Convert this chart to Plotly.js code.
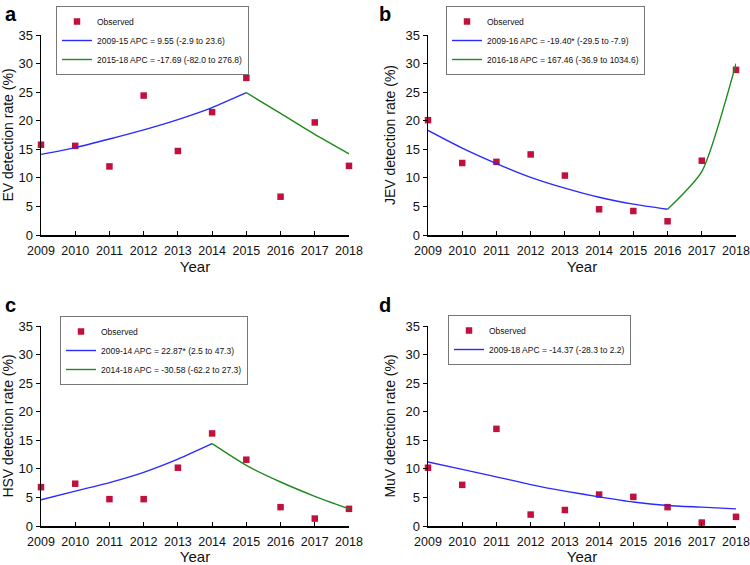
<!DOCTYPE html>
<html>
<head>
<meta charset="utf-8">
<script src="https://cdn.plot.ly/plotly-3.0.1.min.js"></script>
<style>
  html, body { margin: 0; padding: 0; background: #fff; }
  #chart { width: 750px; height: 565px; }
</style>
</head>
<body>
<div id="chart"></div>
<script>
const years = [2009, 2010, 2011, 2012, 2013, 2014, 2015, 2016, 2017, 2018];

// observed detection rates (%)
const evObserved = [15.8, 15.6, 12.0, 24.4, 14.7, 21.5, 27.5, 6.7, 19.7, 12.1];
const jevObserved = [20.1, 12.6, 12.8, 14.1, 10.4, 4.5, 4.2, 2.4, 13.0, 28.9];
const hsvObserved = [6.8, 7.4, 4.7, 4.7, 10.2, 16.2, 11.6, 3.3, 1.3, 3.0];
const muvObserved = [10.2, 7.2, 17.0, 2.0, 2.8, 5.5, 5.1, 3.3, 0.6, 1.6];

// joinpoint fitted segments
const evFitYears1 = [2009, 2010, 2011, 2012, 2013, 2014, 2015];
const evFit1 = [14.1, 15.3, 16.8, 18.4, 20.2, 22.3, 24.9];
const evFitYears2 = [2015, 2016, 2017, 2018];
const evFit2 = [24.9, 21.3, 17.6, 14.2];

const jevFitYears1 = [2009, 2010, 2011, 2012, 2013, 2014, 2015, 2016];
const jevFit1 = [18.3, 15.2, 12.5, 10.1, 8.2, 6.6, 5.4, 4.5];
const jevFitYears2 = [2016, 2017, 2018];
const jevFit2 = [4.5, 11.1, 30.0];

const hsvFitYears1 = [2009, 2010, 2011, 2012, 2013, 2014];
const hsvFit1 = [4.6, 6.1, 7.6, 9.4, 11.7, 14.4];
const hsvFitYears2 = [2014, 2015, 2016, 2017, 2018];
const hsvFit2 = [14.4, 10.6, 7.7, 5.2, 3.0];

const muvFit = [11.2, 9.9, 8.6, 7.25, 6.1, 5.1, 4.2, 3.6, 3.3, 3.0];

const legendA = ['Observed', '2009-15 APC = 9.55 (-2.9 to 23.6)', '2015-18 APC = -17.69 (-82.0 to 276.8)'];
const legendB = ['Observed', '2009-16 APC = -19.40* (-29.5 to -7.9)', '2016-18 APC = 167.46 (-36.9 to 1034.6)'];
const legendC = ['Observed', '2009-14 APC = 22.87* (2.5 to 47.3)', '2014-18 APC = -30.58 (-62.2 to 27.3)'];
const legendD = ['Observed', '2009-18 APC = -14.37 (-28.3 to 2.2)'];

const yTitles = ['EV detection rate (%)', 'JEV detection rate (%)', 'HSV detection rate (%)', 'MuV detection rate (%)'];
const panelLabels = ['a', 'b', 'c', 'd'];

const markerColor = '#c0103c';
const blue = '#2a2aff';
const green = '#1e8a1e';

function observed(y, ax, leg, name) {
  return {
    x: years, y: y, xaxis: 'x' + ax, yaxis: 'y' + ax, legend: leg,
    name: name, mode: 'markers', type: 'scatter', cliponaxis: false,
    marker: { symbol: 'square', size: 6.5, color: markerColor }
  };
}

function fit(x, y, ax, leg, name, color) {
  return {
    x: x, y: y, xaxis: 'x' + ax, yaxis: 'y' + ax, legend: leg,
    name: name, mode: 'lines', type: 'scatter', cliponaxis: false,
    line: { color: color, width: 1.4, shape: 'spline', smoothing: 0.6 }
  };
}

const traces = [
  observed(evObserved, '', 'legend', legendA[0]),
  fit(evFitYears1, evFit1, '', 'legend', legendA[1], blue),
  fit(evFitYears2, evFit2, '', 'legend', legendA[2], green),

  observed(jevObserved, '2', 'legend2', legendB[0]),
  fit(jevFitYears1, jevFit1, '2', 'legend2', legendB[1], blue),
  fit(jevFitYears2, jevFit2, '2', 'legend2', legendB[2], green),

  observed(hsvObserved, '3', 'legend3', legendC[0]),
  fit(hsvFitYears1, hsvFit1, '3', 'legend3', legendC[1], blue),
  fit(hsvFitYears2, hsvFit2, '3', 'legend3', legendC[2], green),

  observed(muvObserved, '4', 'legend4', legendD[0]),
  fit(years, muvFit, '4', 'legend4', legendD[1], blue)
];

const W = 750, H = 565;
const xDomains = [[41 / W, 349 / W], [428 / W, 736 / W]];
const yDomains = [[1 - 235 / H, 1 - 35 / H], [1 - 526 / H, 1 - 326 / H]];
const font = { family: 'Liberation Sans, Arial, sans-serif', color: '#111' };

function xAxis(i) {
  return {
    domain: xDomains[i % 2], anchor: i === 0 ? 'y' : 'y' + (i + 1),
    range: [2009, 2018], tickvals: years, ticktext: years.map(String),
    ticks: 'inside', ticklen: 4, tickcolor: '#000', tickwidth: 1,
    showline: true, linecolor: '#000', linewidth: 1.5, showgrid: false, zeroline: false,
    tickfont: { size: 12.5 }, ticklabelstandoff: 3, fixedrange: true,
    title: { text: 'Year', font: { size: 15 }, standoff: 2 }
  };
}

function yAxis(i) {
  return {
    domain: yDomains[Math.floor(i / 2)], anchor: i === 0 ? 'x' : 'x' + (i + 1),
    range: [0, 35], dtick: 5, tick0: 0,
    ticks: 'outside', ticklen: 4, tickcolor: '#000', tickwidth: 1,
    showline: true, linecolor: '#000', linewidth: 1.5, showgrid: false, zeroline: false,
    tickfont: { size: 13 }, fixedrange: true,
    title: { text: yTitles[i], font: { size: 14 }, standoff: 6 }
  };
}

function legendBox(x, y) {
  return {
    x: x, y: y, xanchor: 'left', yanchor: 'top',
    bgcolor: 'rgba(255,255,255,0)', bordercolor: '#777', borderwidth: 1,
    font: { size: 8.5, family: 'Liberation Sans, Arial, sans-serif', color: '#111' },
    tracegroupgap: 0, itemwidth: 30
  };
}

const layout = {
  width: W, height: H,
  margin: { l: 0, r: 0, t: 0, b: 0 },
  paper_bgcolor: '#fff', plot_bgcolor: '#fff',
  font: font, showlegend: true,
  xaxis: xAxis(0), yaxis: yAxis(0),
  xaxis2: xAxis(1), yaxis2: yAxis(1),
  xaxis3: xAxis(2), yaxis3: yAxis(2),
  xaxis4: xAxis(3), yaxis4: yAxis(3),
  legend: legendBox(56 / W, 1 - 6 / H),
  legend2: legendBox(446 / W, 1 - 6 / H),
  legend3: legendBox(60 / W, 1 - 316 / H),
  legend4: legendBox(448 / W, 1 - 315 / H),
  annotations: panelLabels.map((t, i) => ({
    text: '<b>' + t + '</b>', showarrow: false,
    xref: 'paper', yref: 'paper',
    x: i % 2 === 0 ? 3 / W : 377 / W,
    y: i < 2 ? 1 - 1 / H : 1 - 292 / H,
    xanchor: 'left', yanchor: 'top',
    font: { size: 20, color: '#000' }
  }))
};

Plotly.newPlot('chart', traces, layout, { displayModeBar: false, staticPlot: true });
</script>
</body>
</html>
